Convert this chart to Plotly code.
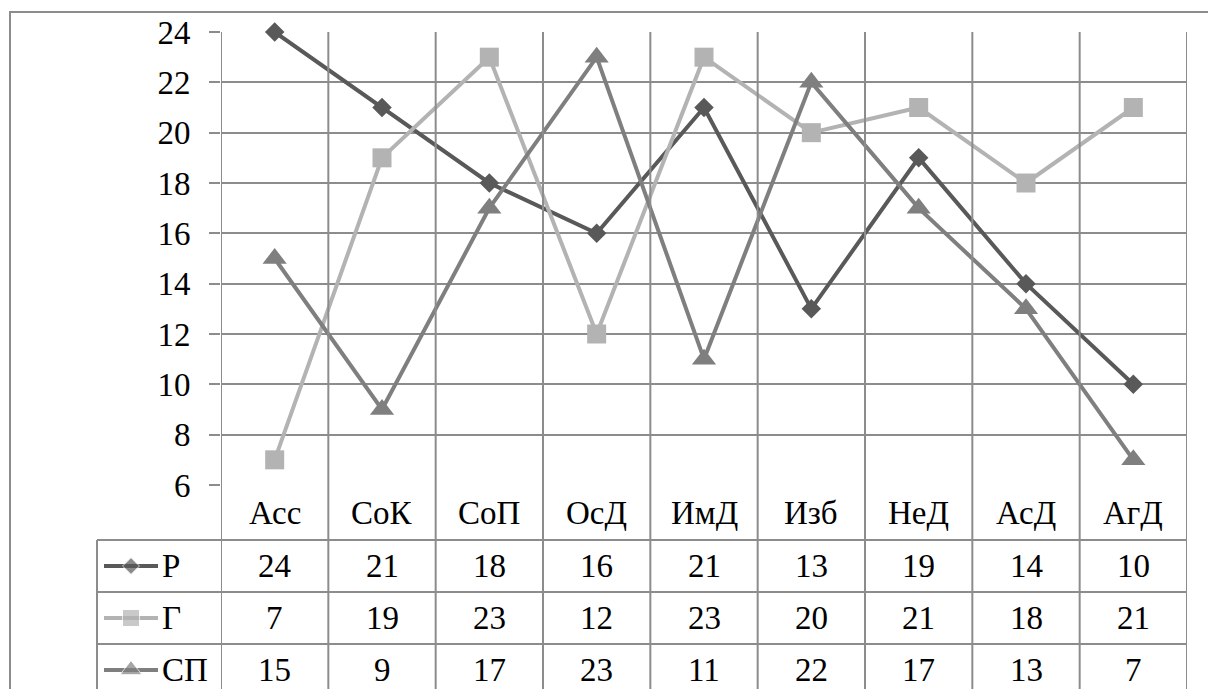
import plotly.graph_objects as go

categories = ["Асс", "СоК", "СоП", "ОсД", "ИмД", "Изб", "НеД", "АсД", "АгД"]
series_names = ["Р", "Г", "СП"]
r_values = [24, 21, 18, 16, 21, 13, 19, 14, 10]
g_values = [7, 19, 23, 12, 23, 20, 21, 18, 21]
sp_values = [15, 9, 17, 23, 11, 22, 17, 13, 7]
y_ticks = [6, 8, 10, 12, 14, 16, 18, 20, 22, 24]

W, H = 1208, 689
def px(x):
    return x / W
def py(y):
    return 1 - y / H

colors = ["#595959", "#B3B3B3", "#7F7F7F"]
symbols = ["diamond", "square", "triangle-up"]
msizes = [15, 19, 21]
values = [r_values, g_values, sp_values]
grid = "#8C8C8C"
font = dict(family="Liberation Serif", size=33, color="black")

xs = list(range(len(categories)))
fig = go.Figure()
for name, vals, c, s, ms in zip(series_names, values, colors, symbols, msizes):
    fig.add_trace(go.Scatter(x=xs, y=vals, mode="lines+markers", name=name,
                             line=dict(color=c, width=4),
                             marker=dict(symbol=s, size=ms, color=c),
                             xaxis="x", yaxis="y", cliponaxis=False, showlegend=False))

# table geometry (pixels)
plot_left, plot_right, plot_top, plot_bottom = 221, 1187, 32, 485
cat_row = (485, 540)
rows = [(540, 592), (592, 644), (644, 696)]
legend_left = 97

shapes = []
shapes.append(dict(type="rect", xref="paper", yref="paper", x0=px(10), x1=px(1230),
                   y0=py(720), y1=py(12), line=dict(color=grid, width=2)))
for i in range(len(categories) + 1):
    shapes.append(dict(type="line", xref="x", yref="paper", x0=i - 0.5, x1=i - 0.5,
                       y0=py(plot_top), y1=py(700), line=dict(color=grid, width=2)))
shapes.append(dict(type="line", xref="paper", yref="paper", x0=px(legend_left), x1=px(legend_left),
                   y0=py(rows[0][0]), y1=py(700), line=dict(color=grid, width=2)))
for (top, bot) in rows:
    shapes.append(dict(type="line", xref="paper", yref="paper", x0=px(legend_left), x1=px(plot_right),
                       y0=py(top), y1=py(top), line=dict(color=grid, width=2)))

annotations = []
for i, cat in enumerate(categories):
    annotations.append(dict(x=i, y=py((cat_row[0] + cat_row[1]) / 2), xref="x", yref="paper",
                            text=cat, showarrow=False, font=font, xanchor="center", yanchor="middle"))
for r, (name, vals) in enumerate(zip(series_names, values)):
    yc = (rows[r][0] + rows[r][1]) / 2
    for i, v in enumerate(vals):
        annotations.append(dict(x=i, y=py(yc), xref="x", yref="paper", text=str(v),
                                showarrow=False, font=font, xanchor="center", yanchor="middle"))
    annotations.append(dict(x=px(160), y=py(yc), xref="paper", yref="paper", text=name,
                            showarrow=False, font=font, xanchor="left", yanchor="middle"))
    fig.add_trace(go.Scatter(x=[104, 131, 158], y=[yc, yc, yc], mode="lines+markers",
                             line=dict(color=colors[r], width=4),
                             marker=dict(symbol=symbols[r], size=[0, msizes[r] - 2, 0], color=colors[r]),
                             xaxis="x2", yaxis="y2", showlegend=False, hoverinfo="skip",
                             cliponaxis=False))

fig.update_layout(
    template="none",
    width=W, height=H, margin=dict(l=0, r=0, t=0, b=0, pad=0, autoexpand=False),
    paper_bgcolor="white", plot_bgcolor="rgba(0,0,0,0)",
    font=font,
    xaxis=dict(domain=[px(plot_left), px(plot_right)], range=[-0.5, len(categories) - 0.5],
               showgrid=False, zeroline=False, showticklabels=False, ticks="", showline=False,
               automargin=False),
    yaxis=dict(domain=[py(plot_bottom), py(plot_top)], range=[6, 24], tickvals=y_ticks,
               showgrid=True, gridcolor=grid, gridwidth=2, zeroline=False, showline=False,
               ticks="outside", ticklen=11, tickwidth=2, tickcolor=grid,
               ticklabelstandoff=12, tickfont=font, automargin=False),
    xaxis2=dict(domain=[0, 1], range=[0, W], visible=False, anchor="y2", automargin=False),
    yaxis2=dict(domain=[0, 1], range=[H, 0], visible=False, anchor="x2", automargin=False),
    shapes=shapes, annotations=annotations,
)

fig.write_html("out.html", config={"displayModeBar": False, "staticPlot": True},
               post_script="document.body.style.margin='0';document.body.style.overflow='hidden';")
